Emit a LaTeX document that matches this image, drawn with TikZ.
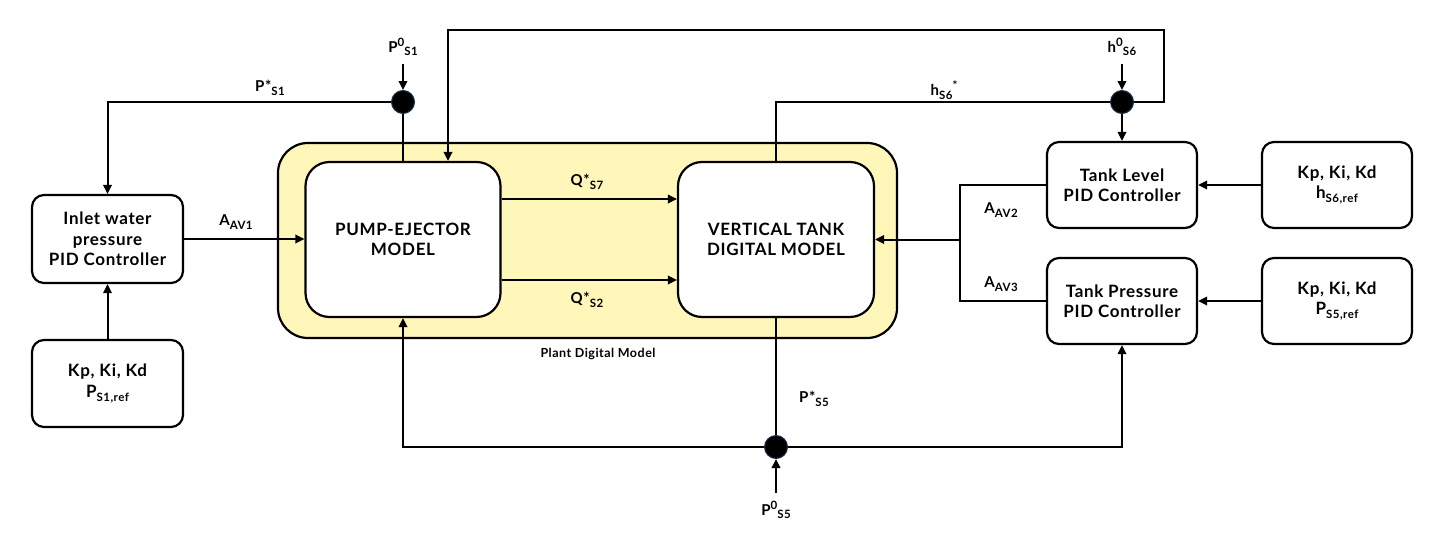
\documentclass[tikz,border=0pt]{standalone}
\usepackage{fontspec}
\setmainfont{Lato}[LetterSpace=4]
\usetikzlibrary{arrows.meta,calc}
\definecolor{plant}{RGB}{255,247,185}
\definecolor{jring}{RGB}{25,50,80}
\newcommand\lo[1]{\raisebox{-0.45ex}{\fontsize{11.5}{11.5}\selectfont #1}}
\newcommand\hi[1]{\raisebox{0.8ex}{\fontsize{11.5}{11.5}\selectfont #1}}
\begin{document}
\begin{tikzpicture}[x=1pt,y=-1pt,
  blk/.style={draw, line width=2.2pt, rounded corners=12pt, fill=white, align=center,
    font=\bfseries\fontsize{17}{20.5}\selectfont, inner sep=0pt},
  bigblk/.style={blk, rounded corners=24pt},
  con/.style={line width=2pt},
  arr/.style={con, -{Triangle[length=9pt,width=8.5pt]}},
  jn/.style={circle, fill=black, draw=jring, line width=1pt, minimum size=23pt, inner sep=0pt},
  lbl/.style={font=\bfseries\fontsize{15}{18}\selectfont, inner sep=0pt}]
\useasboundingbox (0,0) rectangle (1440,533);
\fill[white] (0,0) rectangle (1440,533);

% plant container
\node[draw, line width=2.2pt, fill=plant, rounded corners=30pt, minimum width=619pt,
  minimum height=195pt, inner sep=0pt] (plantbox) at (587.5,240.5) {};
\node[font=\bfseries\fontsize{12.5}{14}\selectfont, inner sep=0pt] (plantlbl) at (598,354) {Plant Digital Model};

% blocks
\node[bigblk, minimum width=195pt, minimum height=155pt] (pump) at (403,239.5) {PUMP-EJECTOR\\MODEL};
\node[bigblk, minimum width=196pt, minimum height=155pt] (tank) at (776,239.5) {VERTICAL TANK\\DIGITAL MODEL};
\node[blk, minimum width=151pt, minimum height=88pt] (inlet) at (107.5,239) {Inlet water\\pressure\\PID Controller};
\node[blk, minimum width=151pt, minimum height=87pt] (kp1) at (107.5,383.5) {Kp, Ki, Kd\\P\lo{S1,ref}};
\node[blk, minimum width=150pt, minimum height=86pt] (tl) at (1122,185) {Tank Level\\PID Controller};
\node[blk, minimum width=150pt, minimum height=86pt] (kph) at (1337,185) {Kp, Ki, Kd\\h\lo{S6,ref}};
\node[blk, minimum width=150pt, minimum height=86pt] (tp) at (1122,301) {Tank Pressure\\PID Controller};
\node[blk, minimum width=150pt, minimum height=86pt] (kpp) at (1337,301) {Kp, Ki, Kd\\P\lo{S5,ref}};

% junctions
\node[jn] (j1) at (403,102) {};
\node[jn] (j2) at (1122,102) {};
\node[jn] (j3) at (776,447) {};

% coordinates
\coordinate (p0s1) at (403,64);
\coordinate (h0s6) at (1122,64);
\coordinate (p0s5) at (776,493);
\coordinate (loopR) at (1164,102);
\coordinate (loopTR) at (1164,30);
\coordinate (loopTL) at (448,30);
\coordinate (brT) at (960,185);
\coordinate (brB) at (960,301);
\coordinate (brM) at (960,239.5);

% labels
\node[lbl] (lp0s1) at (403,47) {P\hi{0}\lo{S1}};
\node[lbl] (lps1) at (270,88) {P*\lo{S1}};
\node[lbl] (lh0s6) at (1122,47) {h\hi{0}\lo{S6}};
\node[lbl] (lhs6) at (944,90) {h\lo{S6}\hi{*}};
\node[lbl] (laav1) at (236,222) {A\lo{AV1}};
\node[lbl] (lq7) at (587,182) {Q*\lo{S7}};
\node[lbl] (lq2) at (587,300) {Q*\lo{S2}};
\node[lbl] (laav2) at (1001,210) {A\lo{AV2}};
\node[lbl] (laav3) at (1001,284) {A\lo{AV3}};
\node[lbl] (lps5) at (814,399) {P*\lo{S5}};
\node[lbl] (lp0s5) at (776,510) {P\hi{0}\lo{S5}};

% connectors
\draw[arr] (p0s1) -- (j1.north);
\draw[arr] (j1.west) -| (inlet.north);
\draw[con] (j1.south) -- (j1 |- pump.north);
\draw[arr] (inlet.east) -- (inlet.east -| pump.west);
\draw[arr] (kp1.north) -- (inlet.south);
\draw[arr] (pump.east |- 0,199) -- (tank.west |- 0,199);
\draw[arr] (pump.east |- 0,280) -- (tank.west |- 0,280);
\draw[con] (tank.north) |- (j2.west);
\draw[arr] (j2.east) -- (loopR) -- (loopTR) -- (loopTL) -- (loopTL |- pump.north);
\draw[arr] (h0s6) -- (j2.north);
\draw[arr] (j2.south) -- (tl.north);
\draw[arr] (kph.west) -- (tl.east);
\draw[arr] (kpp.west) -- (tp.east);
\draw[con] (tl.west) -- (brT) -- (brB) -- (tp.west);
\draw[arr] (brM) -- (tank.east);
\draw[con] (tank.south) -- (j3.north);
\draw[arr] (j3.west) -| (pump.south);
\draw[arr] (j3.east) -| (tp.south);
\draw[arr] (p0s5) -- (j3.south);
\end{tikzpicture}
\end{document}
